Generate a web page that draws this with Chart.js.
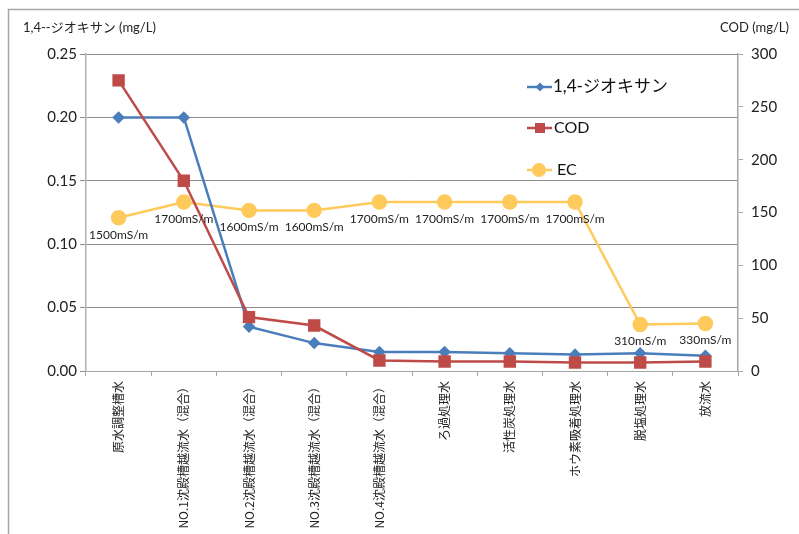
<!DOCTYPE html>
<html>
<head>
<meta charset="utf-8">
<script src="https://cdn.jsdelivr.net/npm/chart.js@4/dist/chart.umd.min.js"></script>
<style>
html,body{margin:0;padding:0;background:#fff;}
#wrap{width:799px;height:534px;position:relative;}
</style>
</head>
<body>
<div id="wrap"><canvas id="c" width="799" height="534"></canvas></div>
<script>
const categories = ['原水調整槽水','NO.1沈殿槽越流水（混合）','NO.2沈殿槽越流水（混合）','NO.3沈殿槽越流水（混合）','NO.4沈殿槽越流水（混合）','ろ過処理水','活性炭処理水','ホウ素吸着処理水','脱塩処理水','放流水'];
const dioxane = [0.200, 0.200, 0.035, 0.022, 0.015, 0.015, 0.014, 0.013, 0.014, 0.012];
const cod = [275, 180, 51, 43, 10, 9, 9, 8, 8, 9];
const ecPlot = [145, 160, 152, 152, 160, 160, 160, 160, 44, 45];
const ecLabels = ['1500mS/m','1700mS/m','1600mS/m','1600mS/m','1700mS/m','1700mS/m','1700mS/m','1700mS/m','310mS/m','330mS/m'];
const seriesNames = ['1,4-ジオキサン','COD','EC'];
const leftTitle = '1,4--ジオキサン (mg/L)';
const rightTitle = 'COD (mg/L)';

const BLUE = '#4A7EBB', RED = '#BE4B48', YEL = '#FFCA5C';
const FONT = "Lato, 'Noto Sans CJK JP', sans-serif";

const decor = {
  id: 'decor',
  beforeDraw(chart) {
    const ctx = chart.ctx;
    ctx.save();
    ctx.fillStyle = '#fff';
    ctx.fillRect(0, 0, chart.width, chart.height);
    ctx.strokeStyle = '#A6A6A6';
    ctx.lineWidth = 1.5;
    ctx.beginPath();
    ctx.moveTo(8.5, chart.height + 2);
    ctx.lineTo(8.5, 9.5);
    ctx.lineTo(chart.width + 2, 9.5);
    ctx.stroke();
    ctx.restore();
  },
  afterDatasetsDraw(chart) {
    const ctx = chart.ctx;
    ctx.save();
    ctx.fillStyle = '#222';
    ctx.font = "13px " + FONT;
    ctx.textBaseline = 'middle';
    ctx.textAlign = 'left';
    ctx.fillText(leftTitle, 23, 28);
    ctx.textAlign = 'right';
    ctx.fillText(rightTitle, 789, 28);
    const meta = chart.getDatasetMeta(2);
    ctx.font = "12px " + FONT;
    ctx.textAlign = 'center';
    ctx.fillStyle = '#222';
    meta.data.forEach((pt, i) => {
      ctx.fillText(ecLabels[i], pt.x, pt.y + 17);
    });
    const items = [
      {name: seriesNames[0], color: BLUE, style: 'diamond', y: 87, font: 17, tx: 553},
      {name: seriesNames[1], color: RED, style: 'square', y: 128, font: 16, tx: 554},
      {name: seriesNames[2], color: YEL, style: 'circle', y: 170, font: 16, tx: 557}
    ];
    items.forEach(it => {
      ctx.strokeStyle = it.color;
      ctx.fillStyle = it.color;
      ctx.lineWidth = 2.5;
      ctx.beginPath();
      ctx.moveTo(527, it.y);
      ctx.lineTo(552, it.y);
      ctx.stroke();
      ctx.beginPath();
      if (it.style === 'diamond') {
        ctx.moveTo(540, it.y - 4.5); ctx.lineTo(544.5, it.y); ctx.lineTo(540, it.y + 4.5); ctx.lineTo(535.5, it.y);
        ctx.closePath(); ctx.fill();
      } else if (it.style === 'square') {
        ctx.rect(535, it.y - 5, 10, 10); ctx.fill();
      } else {
        ctx.arc(539, it.y, 7, 0, Math.PI * 2); ctx.fill();
      }
      ctx.fillStyle = '#111';
      ctx.font = it.font + "px " + FONT;
      ctx.textAlign = 'left';
      ctx.textBaseline = 'middle';
      ctx.fillText(it.name, it.tx, it.y);
    });
    ctx.restore();
  }
};

new Chart(document.getElementById('c'), {
  type: 'line',
  data: {
    labels: categories,
    datasets: [
      {label: seriesNames[0], data: dioxane, yAxisID: 'y', borderColor: BLUE, backgroundColor: BLUE,
       borderWidth: 2.5, pointStyle: 'rectRot', pointRadius: 4.5, pointHoverRadius: 4.5, tension: 0, order: 2},
      {label: seriesNames[1], data: cod, yAxisID: 'y2', borderColor: RED, backgroundColor: RED,
       borderWidth: 2.5, pointStyle: 'rect', pointRadius: 7, pointHoverRadius: 7, tension: 0, order: 1},
      {label: seriesNames[2], data: ecPlot, yAxisID: 'y2', borderColor: YEL, backgroundColor: YEL,
       borderWidth: 2.5, pointStyle: 'circle', pointRadius: 6.5, pointHoverRadius: 6.5, tension: 0, order: 3}
    ]
  },
  options: {
    responsive: false,
    animation: false,
    events: [],
    layout: {padding: {top: 54, left: 0, right: 0, bottom: 0}},
    plugins: {legend: {display: false}, tooltip: {enabled: false}},
    scales: {
      x: {
        type: 'category',
        offset: true,
        grid: {offset: true, drawOnChartArea: false, drawTicks: true, tickLength: 5, color: '#A6A6A6'},
        border: {display: true, color: '#A6A6A6', width: 1},
        ticks: {
          autoSkip: false, maxRotation: 90, minRotation: 90, padding: 5,
          color: '#222', font: {family: "'Noto Sans CJK JP', sans-serif", size: 12}
        },
        afterFit(s) { s.height = 163; }
      },
      y: {
        position: 'left',
        min: 0, max: 0.25,
        grid: {color: '#8C8C8C', lineWidth: 1, drawTicks: true, tickLength: 6},
        border: {display: true, color: '#B0B0B0', width: 1.5},
        ticks: {
          stepSize: 0.05, padding: 3, color: '#222',
          font: {family: FONT, size: 15},
          callback: v => Number(v).toFixed(2)
        },
        afterFit(s) { s.width = 86; }
      },
      y2: {
        position: 'right',
        min: 0, max: 300,
        grid: {drawOnChartArea: false, drawTicks: true, tickLength: 5, color: '#A6A6A6'},
        border: {display: true, color: '#A6A6A6', width: 1.5},
        ticks: {stepSize: 50, padding: 8, color: '#222', font: {family: FONT, size: 15}},
        afterFit(s) { s.width = 61; }
      }
    }
  },
  plugins: [decor]
});
</script>
</body>
</html>
